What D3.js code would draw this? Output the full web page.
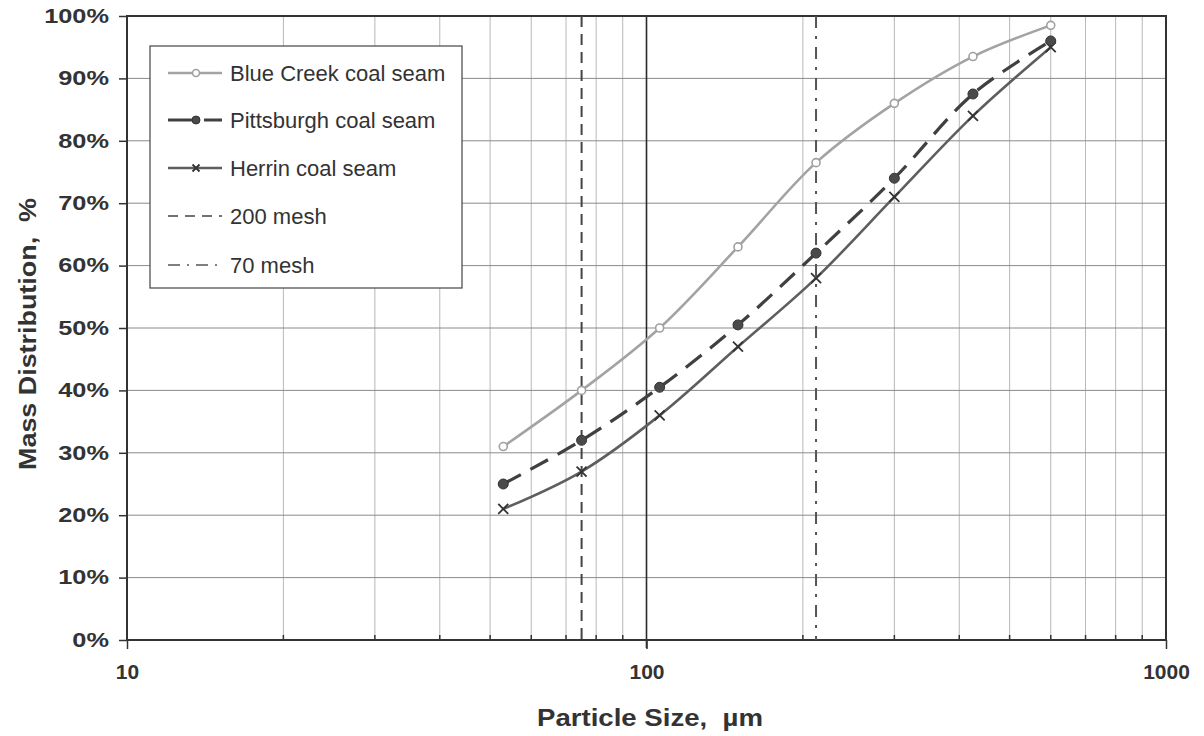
<!DOCTYPE html>
<html>
<head>
<meta charset="utf-8">
<script src="https://cdn.jsdelivr.net/npm/d3@7"></script>
<style>
  html, body { margin: 0; padding: 0; background: #fff; }
  svg text { font-family: Arial, "Liberation Sans", sans-serif; white-space: pre; }
</style>
</head>
<body>
<svg id="chart" width="1204" height="736"></svg>
<script>
// ---- data ----
const sizes = [53, 75, 106, 150, 212, 300, 425, 600];
const blueCreek = [31, 40, 50, 63, 76.5, 86, 93.5, 98.5];
const pittsburgh = [25, 32, 40.5, 50.5, 62, 74, 87.5, 96];
const herrin = [21, 27, 36, 47, 58, 71, 84, 95];
const mesh200 = 75;
const mesh70 = 212;
const yTicks = [0, 10, 20, 30, 40, 50, 60, 70, 80, 90, 100];
const xMajor = [10, 100, 1000];
const legendLabels = ["Blue Creek coal seam", "Pittsburgh coal seam", "Herrin coal seam", "200 mesh", "70 mesh"];

// ---- layout ----
const L = 127, R = 1166, T = 16, B = 640;
const svg = d3.select("#chart");
const x = d3.scaleLog().domain([10, 1000]).range([L, R]);
const y = d3.scaleLinear().domain([0, 100]).range([B, T]);

// minor vertical gridlines
const minors = [];
[10, 100].forEach(d => { for (let k = 2; k <= 9; k++) minors.push(d * k); });
svg.append("g").selectAll("line").data(minors).join("line")
  .attr("x1", d => x(d)).attr("x2", d => x(d))
  .attr("y1", T).attr("y2", B)
  .attr("stroke", "#b8b8b8").attr("stroke-width", 1);

// horizontal gridlines
svg.append("g").selectAll("line").data(yTicks.slice(1, -1)).join("line")
  .attr("x1", L).attr("x2", R)
  .attr("y1", d => y(d)).attr("y2", d => y(d))
  .attr("stroke", "#8a8a8a").attr("stroke-width", 1);

// major vertical at 100
svg.append("line")
  .attr("x1", x(100)).attr("x2", x(100)).attr("y1", T).attr("y2", B + 8)
  .attr("stroke", "#2a2a2a").attr("stroke-width", 1.6);

// minor ticks on x axis (inward)
svg.append("g").selectAll("line").data(minors).join("line")
  .attr("x1", d => x(d)).attr("x2", d => x(d))
  .attr("y1", B).attr("y2", B - 5)
  .attr("stroke", "#333").attr("stroke-width", 1.5);

// axes via d3
const yAxis = d3.axisLeft(y).tickValues(yTicks).tickFormat(d => d + "%").tickSize(8).tickPadding(10);
const gy = svg.append("g").attr("transform", `translate(${L},0)`).call(yAxis);
gy.select(".domain").remove();
gy.selectAll(".tick line").attr("stroke", "#333").attr("stroke-width", 1.5);
gy.selectAll(".tick text").attr("font-size", 19.5).attr("font-weight", "bold").attr("fill", "#333")
  .attr("font-family", "Arial, 'Liberation Sans', sans-serif")
  .attr("x", 0).attr("transform", "translate(-18,0) scale(1.3,1)");

const xAxis = d3.axisBottom(x).tickValues(xMajor).tickFormat(d3.format("d")).tickSize(9).tickPadding(15);
const gx = svg.append("g").attr("transform", `translate(0,${B})`).call(xAxis);
gx.select(".domain").remove();
gx.selectAll(".tick line").attr("stroke", "#333").attr("stroke-width", 1.5);
gx.selectAll(".tick text").attr("font-size", 21).attr("font-weight", "bold").attr("fill", "#333")
  .attr("font-family", "Arial, 'Liberation Sans', sans-serif");

// plot border
svg.append("rect").attr("x", L).attr("y", T).attr("width", R - L).attr("height", B - T)
  .attr("fill", "none").attr("stroke", "#333").attr("stroke-width", 2);

// mesh lines
svg.append("line").attr("x1", x(mesh200)).attr("x2", x(mesh200)).attr("y1", T).attr("y2", B)
  .attr("stroke", "#444").attr("stroke-width", 2).attr("stroke-dasharray", "11,7");
svg.append("line").attr("x1", x(mesh70)).attr("x2", x(mesh70)).attr("y1", T).attr("y2", B)
  .attr("stroke", "#555").attr("stroke-width", 2).attr("stroke-dasharray", "12,8,3,8");

// series
const line = d3.line().x(d => x(d[0])).y(d => y(d[1])).curve(d3.curveCatmullRom.alpha(0.5));
function pts(vals) { return sizes.map((s, i) => [s, vals[i]]); }

svg.append("path").attr("d", line(pts(herrin))).attr("fill", "none")
  .attr("stroke", "#5e5e5e").attr("stroke-width", 2.6);
svg.append("path").attr("d", line(pts(pittsburgh))).attr("fill", "none")
  .attr("stroke", "#404040").attr("stroke-width", 3.2).attr("stroke-dasharray", "20,11");
svg.append("path").attr("d", line(pts(blueCreek))).attr("fill", "none")
  .attr("stroke", "#a3a3a3").attr("stroke-width", 2.6);

// markers
function xMark(g, cx, cy, s, col) {
  g.append("path").attr("d", `M${cx - s},${cy - s}L${cx + s},${cy + s}M${cx - s},${cy + s}L${cx + s},${cy - s}`)
    .attr("stroke", col).attr("stroke-width", 1.8).attr("fill", "none");
}
const gm = svg.append("g");
pts(herrin).forEach(p => xMark(gm, x(p[0]), y(p[1]), 5, "#333"));
svg.append("g").selectAll("circle").data(pts(pittsburgh)).join("circle")
  .attr("cx", d => x(d[0])).attr("cy", d => y(d[1])).attr("r", 5)
  .attr("fill", "#4a4a4a").attr("stroke", "#333").attr("stroke-width", 1);
svg.append("g").selectAll("circle").data(pts(blueCreek)).join("circle")
  .attr("cx", d => x(d[0])).attr("cy", d => y(d[1])).attr("r", 4)
  .attr("fill", "#fff").attr("stroke", "#a0a0a0").attr("stroke-width", 1.6);

// axis titles
svg.append("text").attr("transform", "translate(650,726) scale(1.2,1)").attr("text-anchor", "middle")
  .attr("font-size", 23).attr("font-weight", "bold").attr("fill", "#333")
  .text("Particle Size,  µm");
svg.append("text").attr("transform", "translate(36,334) rotate(-90) scale(1.17,1)").attr("text-anchor", "middle")
  .attr("font-size", 23).attr("font-weight", "bold").attr("fill", "#333")
  .text("Mass Distribution,  %");

// legend
const lg = svg.append("g");
lg.append("rect").attr("x", 150).attr("y", 46).attr("width", 312).attr("height", 242)
  .attr("fill", "#fff").attr("stroke", "#444").attr("stroke-width", 1.2);
const rowY = [73, 120, 168, 216, 265];
const lx1 = 168, lx2 = 222, lxm = 196;
legendLabels.forEach((t, i) => {
  lg.append("text").attr("x", 230).attr("y", rowY[i]).attr("dy", "0.35em")
    .attr("font-size", 22).attr("fill", "#333").text(t);
});
// Blue Creek
lg.append("line").attr("x1", lx1).attr("x2", lx2).attr("y1", rowY[0]).attr("y2", rowY[0])
  .attr("stroke", "#a3a3a3").attr("stroke-width", 2.6);
lg.append("circle").attr("cx", lxm).attr("cy", rowY[0]).attr("r", 3.5)
  .attr("fill", "#fff").attr("stroke", "#a0a0a0").attr("stroke-width", 1.6);
// Pittsburgh
lg.append("line").attr("x1", lx1).attr("x2", lx2).attr("y1", rowY[1]).attr("y2", rowY[1])
  .attr("stroke", "#404040").attr("stroke-width", 3.2).attr("stroke-dasharray", "28,8,20");
lg.append("circle").attr("cx", lxm).attr("cy", rowY[1]).attr("r", 4)
  .attr("fill", "#4a4a4a").attr("stroke", "#333");
// Herrin
lg.append("line").attr("x1", lx1).attr("x2", lx2).attr("y1", rowY[2]).attr("y2", rowY[2])
  .attr("stroke", "#5e5e5e").attr("stroke-width", 2.6);
xMark(lg, lxm, rowY[2], 3.5, "#333");
// 200 mesh
lg.append("line").attr("x1", lx1).attr("x2", lx2).attr("y1", rowY[3]).attr("y2", rowY[3])
  .attr("stroke", "#444").attr("stroke-width", 1.6).attr("stroke-dasharray", "10,7");
// 70 mesh
lg.append("line").attr("x1", lx1).attr("x2", lx2).attr("y1", rowY[4]).attr("y2", rowY[4])
  .attr("stroke", "#555").attr("stroke-width", 1.6).attr("stroke-dasharray", "12,7,2,7");
</script>
</body>
</html>
